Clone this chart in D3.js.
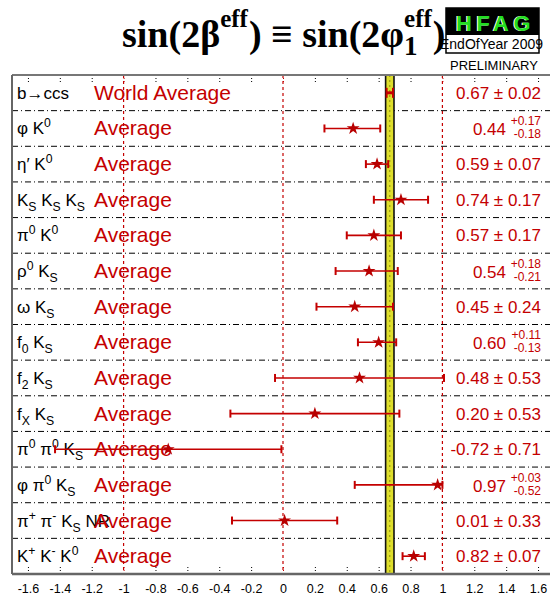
<!DOCTYPE html>
<html>
<head>
<meta charset="utf-8">
<script src="https://cdn.jsdelivr.net/npm/d3@7"></script>
<style>
  body { margin: 0; background: #fff; }
  svg { display: block; font-family: Arial, 'Liberation Sans', sans-serif; }
</style>
</head>
<body>
<div id="chart"></div>
<script>
// decay modes, top to bottom (^ = superscript, _ = subscript)
const modes = ['b→ccs', 'φ K^0', 'η′ K^0', 'K_S K_S K_S', 'π^0 K^0', 'ρ^0 K_S', 'ω K_S',
    'f_0 K_S', 'f_2 K_S', 'f_X K_S', 'π^0 π^0 K_S', 'φ π^0 K_S', 'π^+ π^- K_S NR', 'K^+ K^- K^0'];
const averageLabels = ['World Average', 'Average', 'Average', 'Average', 'Average', 'Average', 'Average',
    'Average', 'Average', 'Average', 'Average', 'Average', 'Average', 'Average'];
const values   = [0.67, 0.44, 0.59, 0.74, 0.57, 0.54, 0.45, 0.60, 0.48, 0.20, -0.72, 0.97, 0.01, 0.82];
const errPlus  = [0.02, 0.17, 0.07, 0.17, 0.17, 0.18, 0.24, 0.11, 0.53, 0.53, 0.71, 0.03, 0.33, 0.07];
const errMinus = [0.02, 0.18, 0.07, 0.17, 0.17, 0.21, 0.24, 0.13, 0.53, 0.53, 0.71, 0.52, 0.33, 0.07];
const tickValues = d3.range(-16, 17, 2).map(d => d / 10);
const worldAverage = 0.67, worldError = 0.02;

const width = 550, height = 601;
const red = '#c40000';
const plotTop = 75, plotBottom = 574, plotLeft = 12;

const svg = d3.select('#chart').append('svg')
    .attr('width', width)
    .attr('height', height);

const x = d3.scaleLinear().domain([-1.7, 1.7]).range([plotLeft, 554]);
const y = d3.scaleBand().domain(d3.range(modes.length)).range([plotTop, plotBottom]);

// title
function drawTitle() {
    const g = svg.append('g');
    const base = 47;
    let cx = 0;
    const piece = (t, size, dy, px) => g.append('text')
        .attr('x', px).attr('y', base + dy)
        .style('font-family', "'Times New Roman', 'Liberation Serif', serif")
        .style('font-weight', 'bold')
        .style('font-size', size + 'px')
        .text(t);
    let t = piece('sin(2β', 38, 0, cx); cx += t.node().getComputedTextLength();
    t = piece('eff', 25, -20, cx); cx += t.node().getComputedTextLength() + 1;
    t = piece(') ≡ sin(2φ', 38, 0, cx); cx += t.node().getComputedTextLength();
    const sup = piece('eff', 25, -20, cx);
    const sub = piece('1', 27, 8, cx);
    cx += Math.max(sup.node().getComputedTextLength(), sub.node().getComputedTextLength()) + 1;
    t = piece(')', 38, 0, cx); cx += t.node().getComputedTextLength();
    g.attr('transform', `translate(${122},0)`);
}

function drawLogo() {
    svg.append('rect').attr('x', 446).attr('y', 8).attr('width', 93).attr('height', 27).attr('fill', '#000');
    svg.append('rect').attr('x', 446).attr('y', 8).attr('width', 93).attr('height', 45)
        .attr('fill', 'none').attr('stroke', '#000').attr('stroke-width', 1.5);
    ['#ffffff', '#22dd22'].forEach((c, i) => {
        svg.append('text')
            .attr('x', 455 + i).attr('y', 31)
            .style('font-size', '22px').style('font-weight', 'bold')
            .style('letter-spacing', '4.5px')
            .attr('fill', c)
            .text('HFAG');
    });
    svg.append('text').attr('x', 440).attr('y', 49).style('font-size', '14px').text('EndOfYear 2009');
    svg.append('text').attr('x', 494).attr('y', 70).attr('text-anchor', 'middle')
        .style('font-size', '13px').text('PRELIMINARY');
}

// "K_S" -> tspans with sub/superscripts
function addRichText(sel, str, size) {
    const re = /([\^_])(.)|([^\^_]+)/g;
    let m, shift = 0;
    while ((m = re.exec(str)) !== null) {
        if (m[3]) {
            sel.append('tspan').attr('dy', -shift).style('font-size', size + 'px').text(m[3]);
            shift = 0;
        } else {
            const s = m[1] === '^' ? -7 : 5;
            sel.append('tspan').attr('dy', s - shift).style('font-size', (size * 0.72) + 'px').text(m[2]);
            shift = s;
        }
    }
}

function drawFrame() {
    // row separators
    svg.selectAll('line.sep')
        .data(d3.range(1, modes.length))
        .join('line')
        .classed('sep', true)
        .attr('x1', plotLeft).attr('x2', width)
        .attr('y1', d => y(d)).attr('y2', d => y(d))
        .attr('stroke', '#000')
        .attr('stroke-width', 1)
        .attr('stroke-dasharray', '6,3,1,3');

    // red dashed lines at -1, 0, 1
    svg.selectAll('line.ref')
        .data([-1, 0, 1])
        .join('line')
        .classed('ref', true)
        .attr('x1', d => x(d)).attr('x2', d => x(d))
        .attr('y1', plotTop).attr('y2', plotBottom)
        .attr('stroke', red)
        .attr('stroke-width', 1.2)
        .attr('stroke-dasharray', '3,3');

    // world average band
    svg.append('rect')
        .attr('x', x(worldAverage - worldError) - 1)
        .attr('y', plotTop)
        .attr('width', x(worldAverage + worldError) - x(worldAverage - worldError) + 2)
        .attr('height', plotBottom - plotTop)
        .attr('fill', '#dede2c')
        .attr('stroke', '#111')
        .attr('stroke-width', 1.6);
    svg.append('line')
        .attr('x1', x(worldAverage)).attr('x2', x(worldAverage))
        .attr('y1', plotTop).attr('y2', plotBottom)
        .attr('stroke', '#8c8c10')
        .attr('stroke-width', 1)
        .attr('stroke-dasharray', '2,3');

    // axes
    const fmt = d => String(+d.toFixed(1));
    const bottomAxis = svg.append('g')
        .attr('transform', `translate(0,${plotBottom})`)
        .call(d3.axisBottom(x).tickValues(tickValues).tickFormat(fmt).tickSize(-8).tickPadding(10));
    bottomAxis.select('.domain').remove();
    bottomAxis.selectAll('text').style('font-size', '12.5px').style('font-family', "Arial, 'Liberation Sans', sans-serif").attr('fill', '#000');

    const topAxis = svg.append('g')
        .attr('transform', `translate(0,${plotTop})`)
        .call(d3.axisTop(x).tickValues(tickValues).tickFormat('').tickSize(-8));
    topAxis.select('.domain').remove();

    svg.selectAll('.tick line')
        .attr('stroke', d => Number.isInteger(d) ? red : '#000')
        .attr('stroke-dasharray', '1,2');

    // border
    svg.append('line').attr('x1', plotLeft).attr('x2', width).attr('y1', plotTop).attr('y2', plotTop)
        .attr('stroke', '#777').attr('stroke-width', 2);
    svg.append('line').attr('x1', plotLeft).attr('x2', width).attr('y1', plotBottom).attr('y2', plotBottom)
        .attr('stroke', '#666').attr('stroke-width', 2.5);
    svg.append('line').attr('x1', plotLeft).attr('x2', plotLeft).attr('y1', plotTop).attr('y2', plotBottom)
        .attr('stroke', '#666').attr('stroke-width', 2);
}

function drawRows() {
    const rows = svg.selectAll('g.row')
        .data(modes.map((m, i) => ({ i, mode: m, avg: averageLabels[i], v: values[i], ep: errPlus[i], em: errMinus[i] })))
        .join('g')
        .classed('row', true)
        .attr('transform', d => `translate(0,${y(d.i) + y.bandwidth() / 2})`);

    rows.append('text')
        .attr('x', 17).attr('y', 6)
        .attr('fill', '#000')
        .each(function(d) { addRichText(d3.select(this), d.mode, 17); });

    rows.append('text')
        .attr('x', 94).attr('y', 7)
        .attr('fill', red)
        .style('font-size', '21px')
        .text(d => d.avg);

    // error bars
    rows.append('line')
        .attr('x1', d => x(d.v - d.em)).attr('x2', d => x(d.v + d.ep))
        .attr('stroke', red)
        .attr('stroke-width', d => d.i === 0 ? 3 : 1.6);
    rows.selectAll('line.cap')
        .data(d => [d.v - d.em, d.v + d.ep].map(c => ({ c, first: d.i === 0 })))
        .join('line')
        .classed('cap', true)
        .attr('x1', d => x(d.c)).attr('x2', d => x(d.c))
        .attr('y1', d => d.first ? -5 : -4).attr('y2', d => d.first ? 5 : 4)
        .attr('stroke', red)
        .attr('stroke-width', 2);
    rows.filter(d => d.i > 0).append('path')
        .attr('d', d3.symbol(d3.symbolStar, 52))
        .attr('transform', d => `translate(${x(d.v)},0)`)
        .attr('fill', '#b80000');

    // value labels
    const sym = rows.filter(d => d.ep === d.em);
    sym.append('text')
        .attr('x', 541).attr('y', 6)
        .attr('text-anchor', 'end')
        .attr('fill', red)
        .style('font-size', '17px')
        .text(d => `${d.v.toFixed(2)} ± ${d.ep.toFixed(2)}`);

    const asym = rows.filter(d => d.ep !== d.em);
    asym.append('text')
        .attr('x', 506).attr('y', 7)
        .attr('text-anchor', 'end')
        .attr('fill', red)
        .style('font-size', '17px')
        .text(d => d.v.toFixed(2));
    asym.append('text')
        .attr('x', 541).attr('y', -3)
        .attr('text-anchor', 'end')
        .attr('fill', red)
        .style('font-size', '12px')
        .text(d => '+' + d.ep.toFixed(2));
    asym.append('text')
        .attr('x', 541).attr('y', 10)
        .attr('text-anchor', 'end')
        .attr('fill', red)
        .style('font-size', '12px')
        .text(d => '-' + d.em.toFixed(2));
}

drawTitle();
drawLogo();
drawFrame();
drawRows();
</script>
</body>
</html>
